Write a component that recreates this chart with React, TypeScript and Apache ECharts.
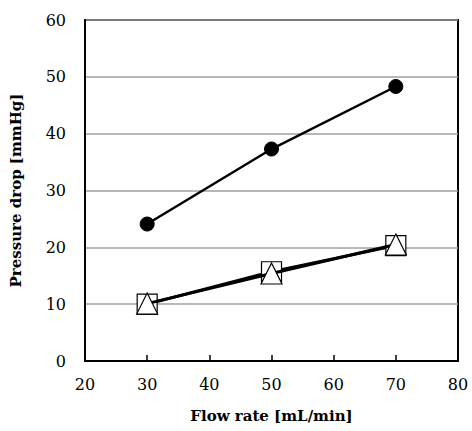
import React, { useEffect, useRef } from "react";
import * as echarts from "echarts";

const flowRates = [30, 50, 70];
const seriesCircle = [24.1, 37.3, 48.3];
const seriesSquare = [10.0, 15.7, 20.3];
const seriesTriangle = [10.1, 15.4, 20.5];

export default function App() {
  const ref = useRef<HTMLDivElement>(null);
  useEffect(() => {
    const chart = echarts.init(ref.current!, null, { renderer: "svg" });
    const font = "DejaVu Serif";
    const mk = (vals: number[]) => flowRates.map((x, i) => [x, vals[i]]);
    chart.setOption({
      animation: false,
      backgroundColor: "#fff",
      textStyle: { fontFamily: font },
      grid: {
        left: 82, right: 14, top: 20, bottom: 70,
        show: true, borderColor: "#000", borderWidth: 2, backgroundColor: "transparent",
      },
      xAxis: {
        type: "value", min: 20, max: 80, interval: 10,
        name: "Flow rate [mL/min]", nameLocation: "middle", nameGap: 47,
        nameTextStyle: { fontFamily: font, fontSize: 15, fontWeight: "bold", color: "#000" },
        axisLine: { show: true, lineStyle: { color: "#000", width: 2 } },
        axisTick: { show: true, inside: true, length: 6, lineStyle: { color: "#000", width: 1.5 } },
        axisLabel: { fontFamily: font, fontSize: 16, color: "#000", margin: 15 },
        splitLine: { show: false },
      },
      yAxis: {
        type: "value", min: 0, max: 60, interval: 10,
        name: "Pressure drop [mmHg]", nameLocation: "middle", nameGap: 62,
        nameTextStyle: { fontFamily: font, fontSize: 15, fontWeight: "bold", color: "#000" },
        axisLine: { show: true, lineStyle: { color: "#000", width: 2 } },
        axisTick: { show: false },
        axisLabel: { fontFamily: font, fontSize: 16, color: "#000", margin: 19 },
        splitLine: { show: true, lineStyle: { color: "#a0a0a0", width: 1.5 } },
      },
      series: [
        {
          type: "line", data: mk(seriesCircle), symbol: "circle", symbolSize: 14,
          lineStyle: { color: "#000", width: 2.5 },
          itemStyle: { color: "#000", borderColor: "#000" },
          z: 3,
        },
        {
          type: "line", data: mk(seriesSquare), symbol: "rect", symbolSize: 20,
          lineStyle: { color: "#000", width: 3 },
          itemStyle: { color: "#fff", borderColor: "#000", borderWidth: 1.2 },
          z: 3,
        },
        {
          type: "line", data: mk(seriesTriangle), symbol: "triangle", symbolSize: 21,
          lineStyle: { color: "#000", width: 3 },
          itemStyle: { color: "#fff", borderColor: "#000", borderWidth: 1.2 },
          z: 4,
        },
      ],
    });
    return () => chart.dispose();
  }, []);
  return <div ref={ref} style={{ width: 472, height: 431, position: "absolute", left: 0, top: 0 }} />;
}
